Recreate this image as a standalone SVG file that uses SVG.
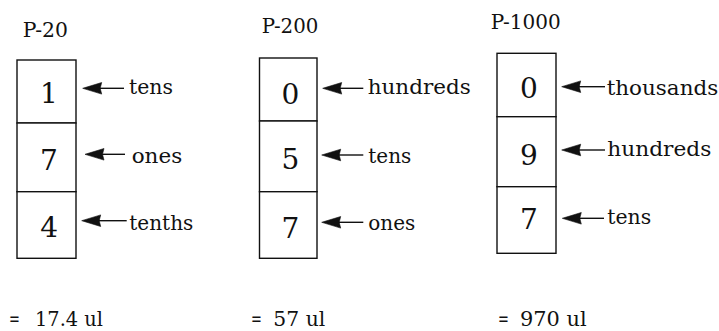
<svg xmlns="http://www.w3.org/2000/svg" width="719" height="331" viewBox="0 0 719 331">
<style>
  .cell { fill: #ffffff; stroke: #111111; stroke-width: 1.4; }
  .digit { font-family: "DejaVu Serif", "Liberation Serif", serif; font-size: 28px; fill: #111111; text-anchor: middle; }
  .lbl { font-family: "DejaVu Serif", "Liberation Serif", serif; font-size: 20px; fill: #111111; }
  .title { font-family: "DejaVu Serif", "Liberation Serif", serif; font-size: 20px; fill: #111111; }
  .res { font-family: "DejaVu Serif", "Liberation Serif", serif; font-size: 20px; fill: #111111; }
  .shaft { stroke: #111111; stroke-width: 1.4; fill: none; }
  .head { fill: #111111; stroke: #111111; stroke-width: 0.6; }
</style>
<defs>
  <path id="ah" d="M0,0 L19,-5.8 L17.5,0 L19,5.8 Z"/>
</defs>
<rect width="719" height="331" fill="#ffffff"/>

<!-- Column 1: P-20 -->
<g id="title-p20"><text class="title" x="22.7" y="37" textLength="45.3" lengthAdjust="spacingAndGlyphs">P-20</text></g>
<g id="p20-tens"><rect class="cell" x="17" y="60" width="59" height="63"/><text class="digit" x="49" y="102.7">1</text></g>
<g id="p20-ones"><rect class="cell" x="17" y="123" width="59" height="68.7"/><text class="digit" x="49" y="170">7</text></g>
<g id="p20-tenths"><rect class="cell" x="17" y="191.7" width="59" height="66.6"/><text class="digit" x="49.2" y="236.7">4</text></g>
<g id="lbl-p20-tens"><text class="lbl" x="129" y="94.3" textLength="44" lengthAdjust="spacingAndGlyphs">tens</text></g>
<g id="lbl-p20-ones"><text class="lbl" x="131.7" y="162.7" textLength="50.5" lengthAdjust="spacingAndGlyphs">ones</text></g>
<g id="lbl-p20-tenths"><text class="lbl" x="129.3" y="230" textLength="64" lengthAdjust="spacingAndGlyphs">tenths</text></g>
<g id="res-p20"><text class="res" x="9" y="325.5"><tspan textLength="15" lengthAdjust="spacingAndGlyphs">= </tspan><tspan x="35" textLength="68" lengthAdjust="spacingAndGlyphs">17.4 ul</tspan></text></g>

<!-- Column 2: P-200 -->
<g id="title-p200"><text class="title" x="261.7" y="33.3" textLength="56.6" lengthAdjust="spacingAndGlyphs">P-200</text></g>
<g id="p200-hundreds"><rect class="cell" x="259.5" y="58" width="57.5" height="63"/><text class="digit" x="290.3" y="104">0</text></g>
<g id="p200-tens"><rect class="cell" x="259.5" y="121" width="57.5" height="70.7"/><text class="digit" x="290.3" y="169.3">5</text></g>
<g id="p200-ones"><rect class="cell" x="259.5" y="191.7" width="57.5" height="66.6"/><text class="digit" x="290.3" y="238.3">7</text></g>
<g id="lbl-p200-hundreds"><text class="lbl" x="367.7" y="94.3" textLength="103" lengthAdjust="spacingAndGlyphs">hundreds</text></g>
<g id="lbl-p200-tens"><text class="lbl" x="368.3" y="162.7" textLength="43" lengthAdjust="spacingAndGlyphs">tens</text></g>
<g id="lbl-p200-ones"><text class="lbl" x="368.3" y="230" textLength="47" lengthAdjust="spacingAndGlyphs">ones</text></g>
<g id="res-p200"><text class="res" x="251" y="325.5"><tspan textLength="15" lengthAdjust="spacingAndGlyphs">= </tspan><tspan x="273.3" textLength="52" lengthAdjust="spacingAndGlyphs">57 ul</tspan></text></g>

<!-- Column 3: P-1000 -->
<g id="title-p1000"><text class="title" x="490.7" y="29.3" textLength="70" lengthAdjust="spacingAndGlyphs">P-1000</text></g>
<g id="p1000-thousands"><rect class="cell" x="497" y="53.3" width="59" height="63.4"/><text class="digit" x="529" y="98.3">0</text></g>
<g id="p1000-hundreds"><rect class="cell" x="497" y="116.7" width="59" height="70"/><text class="digit" x="529" y="165">9</text></g>
<g id="p1000-tens"><rect class="cell" x="497" y="186.7" width="59" height="66.6"/><text class="digit" x="529" y="229.3">7</text></g>
<g id="lbl-p1000-thousands"><text class="lbl" x="606.7" y="95" textLength="111.5" lengthAdjust="spacingAndGlyphs">thousands</text></g>
<g id="lbl-p1000-hundreds"><text class="lbl" x="607.3" y="156" textLength="104" lengthAdjust="spacingAndGlyphs">hundreds</text></g>
<g id="lbl-p1000-tens"><text class="lbl" x="607.3" y="224" textLength="44" lengthAdjust="spacingAndGlyphs">tens</text></g>
<g id="res-p1000"><text class="res" x="498" y="325.5"><tspan textLength="15" lengthAdjust="spacingAndGlyphs">= </tspan><tspan x="520" textLength="66.7" lengthAdjust="spacingAndGlyphs">970 ul</tspan></text></g>

<!-- Connectors -->
<g id="connectors">
  <line class="shaft" x1="124" y1="88.3" x2="96" y2="88.3"/>
  <use href="#ah" class="head" x="82.7" y="88.3"/>
  <line class="shaft" x1="125" y1="154.3" x2="98" y2="154.3"/>
  <use href="#ah" class="head" x="85" y="154.3"/>
  <line class="shaft" x1="126.7" y1="220.7" x2="95" y2="220.7"/>
  <use href="#ah" class="head" x="81.7" y="220.7"/>
  <line class="shaft" x1="363.3" y1="88.3" x2="336" y2="88.3"/>
  <use href="#ah" class="head" x="322.7" y="88.3"/>
  <line class="shaft" x1="363.3" y1="155" x2="335" y2="155"/>
  <use href="#ah" class="head" x="321.7" y="155"/>
  <line class="shaft" x1="363.3" y1="222.3" x2="335" y2="222.3"/>
  <use href="#ah" class="head" x="321.7" y="222.3"/>
  <line class="shaft" x1="605" y1="86.7" x2="575" y2="86.7"/>
  <use href="#ah" class="head" x="561.7" y="86.7"/>
  <line class="shaft" x1="605" y1="150" x2="575" y2="150"/>
  <use href="#ah" class="head" x="561.7" y="150"/>
  <line class="shaft" x1="604" y1="218.3" x2="575" y2="218.3"/>
  <use href="#ah" class="head" x="562.3" y="218.3"/>
</g>
</svg>
